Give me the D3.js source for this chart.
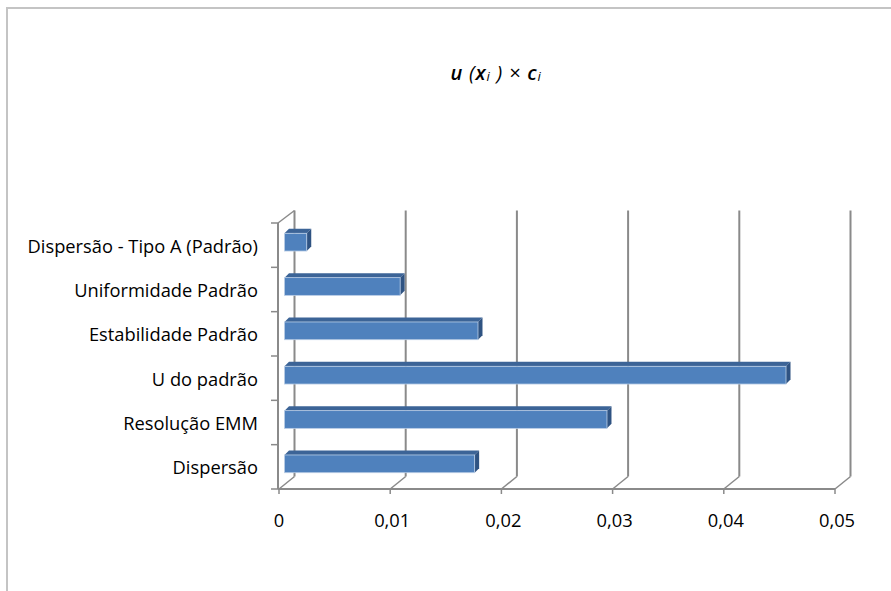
<!DOCTYPE html>
<html>
<head>
<meta charset="utf-8">
<script src="https://cdn.jsdelivr.net/npm/d3@7"></script>
<style>
  html, body { margin: 0; padding: 0; background: #fff; }
  svg { display: block; }
  text { font-family: "Open Sans", "Noto Sans", sans-serif; fill: #000; }
</style>
</head>
<body>
<svg id="chart" width="891" height="591"></svg>
<script>
// Categories, top to bottom
const categories = [
  "Dispersão - Tipo A (Padrão)",
  "Uniformidade Padrão",
  "Estabilidade Padrão",
  "U do padrão",
  "Resolução EMM",
  "Dispersão"
];
// u(xi) × ci for each category
const values = [0.002, 0.0104, 0.0174, 0.0451, 0.0290, 0.0171];
// Value axis ticks
const xTicks = [0, 0.01, 0.02, 0.03, 0.04, 0.05];
const xTickLabels = ["0", "0,01", "0,02", "0,03", "0,04", "0,05"];

const svg = d3.select("#chart");

// Oblique 3D projection: depth shifts right and up
const DX = 15.5, DY = -12.5;

const x = d3.scaleLinear().domain([0, 0.05]).range([279, 835]);
const y = d3.scaleBand().domain(categories).range([223, 489]).paddingInner(0).paddingOuter(0);
const yTop = y.range()[0], yBot = y.range()[1];

// Outer frame (top and left edges)
svg.append("path")
  .attr("d", "M7,591 L7,8 L891,8")
  .attr("fill", "none").attr("stroke", "#c4c4c4").attr("stroke-width", 2);

const axisColor = "#8a8a8a";

// Back-wall gridlines
svg.append("g").selectAll("line").data(xTicks).join("line")
  .attr("x1", d => x(d) + DX).attr("x2", d => x(d) + DX)
  .attr("y1", yTop + DY).attr("y2", yBot + DY)
  .attr("stroke", axisColor).attr("stroke-width", 2);

// Floor diagonals from the front axis to the back wall
svg.append("g").selectAll("line").data(xTicks).join("line")
  .attr("x1", d => x(d)).attr("y1", yBot)
  .attr("x2", d => x(d) + DX).attr("y2", yBot + DY)
  .attr("stroke", axisColor).attr("stroke-width", 1.5);

// Side wall: top diagonal
svg.append("line")
  .attr("x1", x(0) - 1).attr("y1", yTop)
  .attr("x2", x(0) + DX).attr("y2", yTop + DY)
  .attr("stroke", axisColor).attr("stroke-width", 1.5);

// Front value axis line with ticks
svg.append("line")
  .attr("x1", x(0) - 1).attr("x2", x(0.05)).attr("y1", yBot).attr("y2", yBot)
  .attr("stroke", axisColor).attr("stroke-width", 2);
svg.append("g").selectAll("line").data(xTicks).join("line")
  .attr("x1", d => x(d)).attr("x2", d => x(d))
  .attr("y1", yBot).attr("y2", yBot + 5)
  .attr("stroke", axisColor).attr("stroke-width", 1.5);

// Front category axis line with boundary ticks
svg.append("line")
  .attr("x1", x(0) - 1).attr("x2", x(0) - 1).attr("y1", yTop).attr("y2", yBot)
  .attr("stroke", axisColor).attr("stroke-width", 2);
const bounds = categories.map(c => y(c)).concat([yBot]);
svg.append("g").selectAll("line").data(bounds).join("line")
  .attr("x1", x(0) - 8).attr("x2", x(0) - 1)
  .attr("y1", d => d).attr("y2", d => d)
  .attr("stroke", axisColor).attr("stroke-width", 1.5);

// Category labels
svg.append("g").selectAll("text").data(categories).join("text")
  .attr("x", 258).attr("y", d => y(d) + y.bandwidth() / 2)
  .attr("text-anchor", "end").attr("dominant-baseline", "central")
  .attr("font-size", 18.3)
  .text(d => d);

// Value tick labels
svg.append("g").selectAll("text").data(xTicks).join("text")
  .attr("x", (d, i) => x(d) + (i === 0 ? 0 : 2)).attr("y", 519)
  .attr("text-anchor", "middle").attr("dominant-baseline", "central")
  .attr("font-size", 18.3)
  .text((d, i) => xTickLabels[i]);

// 3D bars
const barH = y.bandwidth() * 0.4;
const offX = 5.5, offY = -3;     // bar front face position inside the depth
const bdx = 4.5, bdy = -4.5;     // bar depth
const bars = svg.append("g").selectAll("g").data(categories).join("g");

bars.each(function (c, i) {
  const g = d3.select(this);
  const x0 = x(0) + offX, x1 = x(values[i]) + offX;
  const yc = y(c) + y.bandwidth() / 2 + offY;
  const t = yc - barH / 2, b = yc + barH / 2;
  // top face
  g.append("path")
    .attr("d", `M${x0},${t} L${x0 + bdx},${t + bdy} L${x1 + bdx},${t + bdy} L${x1},${t} Z`)
    .attr("fill", "#3c6497");
  // right face
  g.append("path")
    .attr("d", `M${x1},${t} L${x1 + bdx},${t + bdy} L${x1 + bdx},${b + bdy} L${x1},${b} Z`)
    .attr("fill", "#2f5382");
  // front face
  g.append("rect")
    .attr("x", x0).attr("y", t).attr("width", x1 - x0).attr("height", barH)
    .attr("fill", "#4f81bd")
    .attr("stroke", "#b9cde5").attr("stroke-width", 0.8);
});

// Title: u (xi ) × ci
const title = svg.append("text")
  .attr("x", 496).attr("y", 72)
  .attr("text-anchor", "middle").attr("dominant-baseline", "central")
  .attr("font-size", 20).attr("font-style", "italic")
  .attr("letter-spacing", 0.8);
title.append("tspan").attr("font-weight", 600).text("u");
title.append("tspan").text(" (");
title.append("tspan").attr("font-weight", 600).text("x");
title.append("tspan").attr("font-size", 13).attr("dy", 4).text("i");
title.append("tspan").attr("dy", -4).text(" ) × ");
title.append("tspan").attr("font-weight", 600).text("c");
title.append("tspan").attr("font-size", 13).attr("dy", 4).text("i");
</script>
</body>
</html>
